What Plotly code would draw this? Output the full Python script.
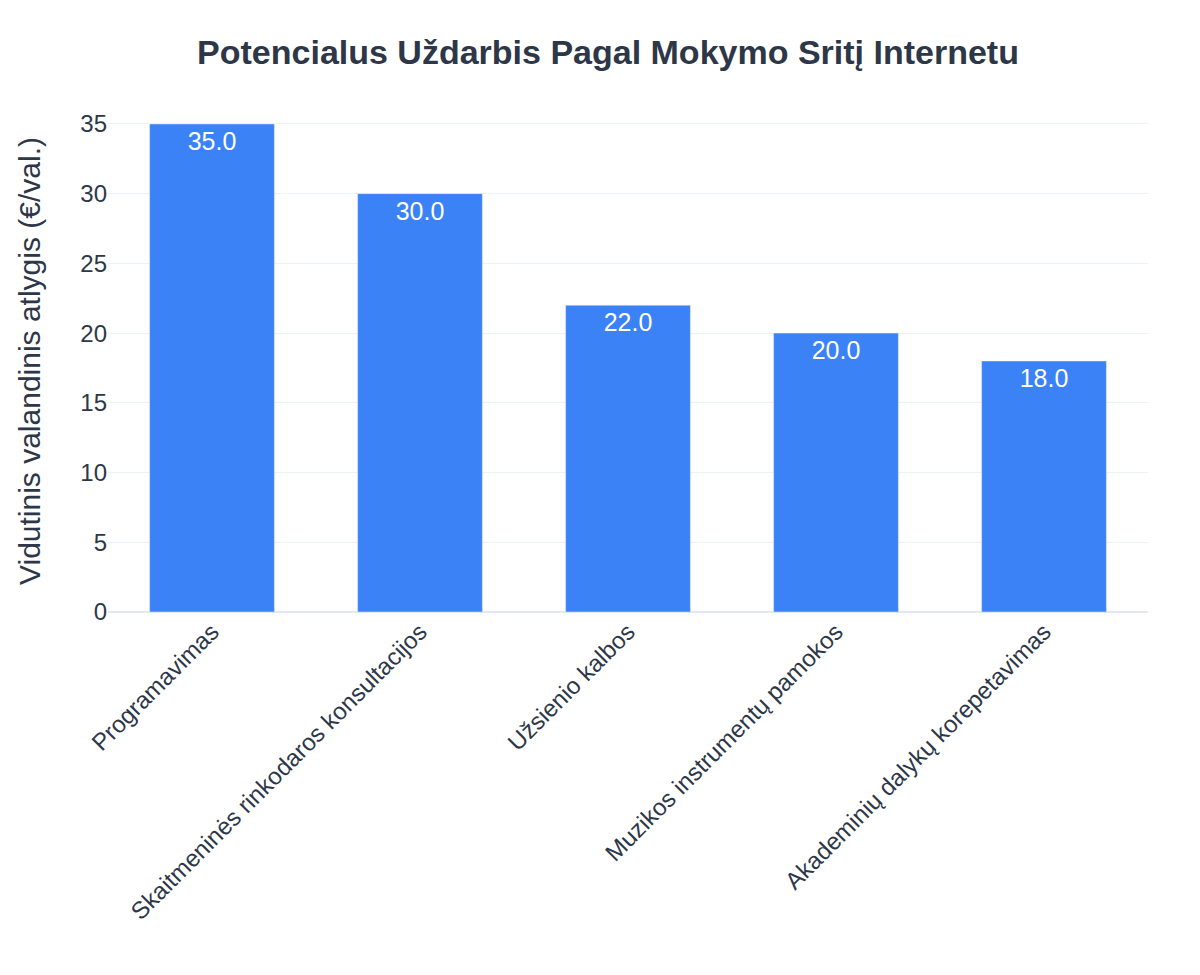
import plotly.graph_objects as go

categories = ["Programavimas", "Skaitmeninės rinkodaros konsultacijos", "Užsienio kalbos",
              "Muzikos instrumentų pamokos", "Akademinių dalykų korepetavimas"]
values = [35.0, 30.0, 22.0, 20.0, 18.0]

fig = go.Figure(go.Bar(
    x=categories, y=values, marker_color="#3b82f6",
    text=[f"{v:.1f}" for v in values], textposition="inside", insidetextanchor="end",
    textfont=dict(color="white", size=25), width=0.6))

fig.update_layout(
    width=1200, height=975,
    title=dict(text="Potencialus Uždarbis Pagal Mokymo Sritį Internetu", x=0.5, xanchor="center", y=0.967,
               font=dict(size=34, color="#2d3748", family="Arial", weight="bold")),
    font=dict(family="Arial", size=24, color="#2d3748"),
    plot_bgcolor="white", paper_bgcolor="white",
    margin=dict(l=100, r=60, t=102, b=371),
    yaxis=dict(title=dict(text="Vidutinis valandinis atlygis (€/val.)", font=dict(size=30), standoff=30),
               gridcolor="#edf2f7", range=[0, 36], dtick=5, zeroline=True, zerolinecolor="#e2e8f0",
               zerolinewidth=2, automargin=False),
    xaxis=dict(tickangle=-45, automargin=False),
    showlegend=False,
)
fig.write_html("out.html")
